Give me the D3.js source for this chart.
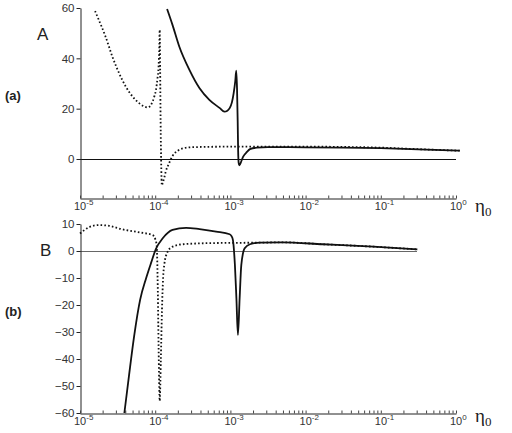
<!DOCTYPE html>
<html>
<head>
<meta charset="utf-8">
<script src="https://cdn.jsdelivr.net/npm/d3@7"></script>
<style>
  body { margin: 0; background: #fff; }
  text { font-family: "Liberation Sans", Arial, sans-serif; }
</style>
</head>
<body>
<div id="chart"></div>
<script>
// data (eta0, value)
var decades = [1e-5, 1e-4, 1e-3, 1e-2, 1e-1, 1];
var decadeExp = ["-5", "-4", "-3", "-2", "-1", "0"];
var ticksA = [0, 20, 40, 60];
var ticksB = [-60, -50, -40, -30, -20, -10, 0, 10];

// panel A, dotted
var aDotEta = [1.585e-5, 1.778e-5, 2.188e-5, 2.692e-5, 3.311e-5, 4.074e-5, 5.012e-5, 6.166e-5, 7.079e-5, 7.943e-5,
  8.710e-5, 9.226e-5, 9.772e-5, 1.023e-4, 1.072e-4, 1.109e-4, 1.135e-4, 1.148e-4, 1.164e-4, 1.180e-4, 1.202e-4,
  1.225e-4, 1.259e-4, 1.318e-4, 1.380e-4, 1.514e-4, 1.698e-4, 1.995e-4, 2.399e-4, 3.162e-4, 1e-3, 1e-2,
  3.162e-2, 0.1, 0.3162, 1.122];
var aDotVal = [58.8, 55.3, 48.6, 40.7, 34.1, 28.7, 24.8, 22.1, 20.9, 20.5,
  21.3, 22.8, 25.0, 27.4, 32, 36.7, 45, 51.3, 35, 15, -2,
  -10.5, -9.5, -7.5, -5, -2, 1.2, 3.3, 4.3, 4.7, 4.9, 4.9,
  4.8, 4.5, 3.9, 3.3];

// panel A, solid
var aSolEta = [1.439e-4, 1.698e-4, 2.089e-4, 2.851e-4, 3.890e-4, 5.248e-4, 7.244e-4, 8.318e-4, 9.120e-4, 9.772e-4,
  1.047e-3, 1.104e-3, 1.161e-3, 1.197e-3, 1.225e-3, 1.250e-3, 1.268e-3, 1.288e-3, 1.312e-3, 1.349e-3, 1.413e-3,
  1.479e-3, 1.660e-3, 1.820e-3, 2.239e-3, 3.162e-3, 1e-2, 3.162e-2, 0.1, 0.3162, 1.122];
var aSolVal = [59.6, 53.3, 44.7, 35.4, 28.1, 23.5, 20.2, 18.8, 19.2, 20.2,
  22.5, 26.1, 31, 35.1, 28, 15, 3, -1.5, -2.5, -2, -0.5,
  0.9, 2.8, 3.9, 4.5, 4.7, 4.65, 4.55, 4.3, 3.8, 3.3];

// panel B, solid
var bSolEta = [3.890e-5, 4.467e-5, 5.248e-5, 6.310e-5, 7.586e-5, 8.790e-5, 1.023e-4, 1.259e-4, 1.698e-4,
  2.570e-4, 3.890e-4, 6.457e-4, 9.772e-4, 1.035e-3, 1.079e-3, 1.148e-3, 1.202e-3, 1.259e-3, 1.327e-3, 1.396e-3,
  1.549e-3, 1.820e-3, 2.455e-3, 4.898e-3, 1.698e-2, 7.943e-2, 0.3062];
var bSolVal = [-60, -46.5, -31.5, -18, -10, -4.5, 0.8, 4.7, 7.8,
  8.6, 8.1, 7.2, 6.2, 5.5, 4.1, -5.2, -17.5, -31.1, -17.5, -5.2,
  1, 2.5, 3.1, 3.2, 2.5, 1.6, 0.6];

// panel B, dotted
var bDotEta = [1e-5, 1.318e-5, 1.778e-5, 2.455e-5, 3.673e-5, 6.166e-5, 9.226e-5, 1e-4, 1.047e-4, 1.084e-4,
  1.109e-4, 1.148e-4, 1.189e-4, 1.230e-4, 1.274e-4, 1.321e-4, 1.462e-4, 1.698e-4, 2.344e-4, 5.012e-4,
  2.512e-3, 4.898e-3, 1.698e-2, 7.943e-2, 0.3062];
var bDotVal = [6.5, 8.8, 9.6, 9.3, 8.0, 6.9, 5.9, 4.5, 2, -15,
  -35, -55.5, -40, -22, -10, -5, -0.3, 1.6, 2.5, 2.9,
  3.1, 3.2, 2.5, 1.6, 0.6];

var width = 512, height = 433;
var svg = d3.select("#chart").append("svg")
    .attr("width", width)
    .attr("height", height);

var x = d3.scaleLog().domain([1e-5, 1]).range([80, 456]);
var yA = d3.scaleLinear().domain([-15.5, 60]).range([198, 8]);
var yB = d3.scaleLinear().domain([-60, 10]).range([413, 224]);

function pairs(eta, val) {
  return eta.map(function(e, i) { return [e, val[i]]; });
}

function drawPanel(y, yTicks, axisY, zeroEnd, zeroColor, series, letter, letterPos, tag, tagY, etaY) {
  var g = svg.append("g");

  // zero line
  g.append("line")
      .attr("x1", 80).attr("x2", zeroEnd)
      .attr("y1", Math.round(y(0)) + 0.5).attr("y2", Math.round(y(0)) + 0.5)
      .attr("stroke", zeroColor)
      .attr("stroke-width", 1.1);

  // y axis
  var ya = g.append("g")
      .attr("transform", "translate(80.5,0)")
      .call(d3.axisLeft(y).tickValues(yTicks).tickSizeInner(4).tickSizeOuter(0).tickPadding(2));
  ya.select(".domain").attr("stroke", "#222");
  ya.selectAll(".tick line").attr("stroke", "#222");
  ya.selectAll(".tick text")
      .attr("font-size", "11.5px")
      .attr("font-family", "Liberation Sans, Arial, sans-serif")
      .attr("fill", "#333");

  // x axis, ticks pointing up
  var xa = g.append("g")
      .attr("transform", "translate(0," + (axisY + 0.5) + ")")
      .call(d3.axisBottom(x).ticks(20).tickSizeInner(-3).tickSizeOuter(0).tickFormat(""));
  xa.select(".domain").attr("stroke", "#222");
  xa.selectAll(".tick line").attr("stroke", "#444");

  var lbl = g.selectAll(".decade")
      .data(decades)
      .enter()
      .append("text")
      .attr("class", "decade")
      .attr("x", function(d) { return x(d) - 6; })
      .attr("y", axisY + 12)
      .attr("font-size", "11px")
      .attr("fill", "#333");
  lbl.append("tspan").text("10");
  lbl.append("tspan")
      .attr("dy", -5)
      .attr("font-size", "8px")
      .text(function(d, i) { return decadeExp[i]; });

  // eta_0
  var eta = g.append("text")
      .attr("x", 475)
      .attr("y", etaY)
      .attr("fill", "#222")
      .style("font-family", "Liberation Serif, Times New Roman, serif")
      .attr("font-size", "19px");
  eta.append("tspan").text("\u03B7");
  eta.append("tspan")
      .attr("dy", 4)
      .attr("font-size", "13px")
      .text("0");

  // curves
  var line = d3.line()
      .x(function(d) { return x(d[0]); })
      .y(function(d) { return y(d[1]); })
      .curve(d3.curveMonotoneX);

  series.forEach(function(s) {
    g.append("path")
        .datum(s.data)
        .attr("d", line)
        .attr("fill", "none")
        .attr("stroke", "#111")
        .attr("stroke-width", 1.8)
        .attr("stroke-dasharray", s.dotted ? "1.6,2.2" : null);
  });

  // panel letters
  g.append("text")
      .attr("x", letterPos[0]).attr("y", letterPos[1])
      .attr("font-size", "17px")
      .attr("fill", "#222")
      .text(letter);
  g.append("text")
      .attr("x", 5).attr("y", tagY)
      .attr("font-size", "13px")
      .attr("font-weight", "bold")
      .attr("fill", "#222")
      .text(tag);
}

drawPanel(yA, ticksA, 198, 456, "#111", [
  { data: pairs(aDotEta, aDotVal), dotted: true },
  { data: pairs(aSolEta, aSolVal), dotted: false }
], "A", [37, 40], "(a)", 100, 212);

drawPanel(yB, ticksB, 413, 417, "#666", [
  { data: pairs(bDotEta, bDotVal), dotted: true },
  { data: pairs(bSolEta, bSolVal), dotted: false }
], "B", [40, 256], "(b)", 316, 422);
</script>
</body>
</html>
